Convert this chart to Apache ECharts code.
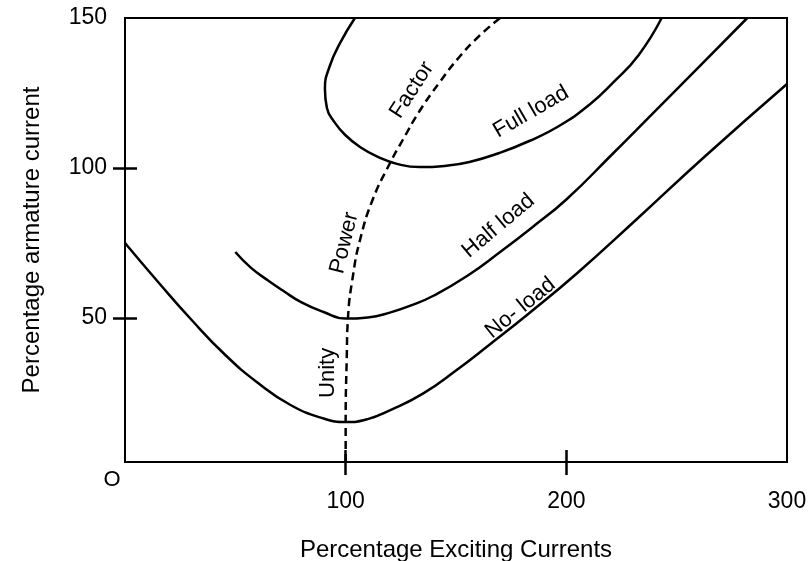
<!DOCTYPE html>
<html>
<head>
<meta charset="utf-8">
<script src="https://cdn.jsdelivr.net/npm/echarts@6/dist/echarts.min.js"></script>
<style>
html,body{margin:0;padding:0;background:#fff;}
#chart{width:812px;height:561px;}
</style>
</head>
<body>
<div id="chart"></div>
<script>
// ---- data (percentage exciting current, percentage armature current) ----
var noLoad = [[0,75],[15,62],[30,49.5],[45,38],[60,28.5],[75,21],[90,16.5],[100,15.3],[110,16.3],[120,19.2],[135,24.8],[150,32.5],[165,41],[183,51.5],[205,65],[232,83],[263,104],[300,128]];
var halfLoad = [[50,72],[57,66.8],[65,62.4],[72,58.9],[80,55.2],[90,52],[100,49.8],[110,50.2],[120,51.8],[130,54.3],[140,57.5],[155,64],[170,72],[185,80.5],[200,89.5],[220,104],[240,118.8],[260,133.6],[282,150]];
var fullLoad = [[104.2,150],[97.5,141.7],[92.8,134],[90.6,126.5],[91.5,120],[94.9,115.3],[99.8,111],[106.5,107],[114.6,103.7],[123.6,101.3],[133.6,100.3],[144.9,100.7],[156.1,102],[169.6,105],[183.2,109],[196.7,114],[210.3,121],[221.5,128.7],[232.8,137.7],[243.2,150]];
var unityPF = [[100,2],[100,16],[100.5,37],[101,49.5],[103.5,65],[106.5,76],[112,89],[120,101.5],[126,109.5],[133.5,119],[142.5,128.5],[151.5,137],[160.5,144],[170,150]];
var xTicks = [100, 200];
var xTickLabels = [100, 200, 300];
var yTicks = [50, 100];
var yTickLabels = [50, 100, 150];
var annTexts = ['Factor', 'Full load', 'Half load', 'No- load', 'Power', 'Unity'];
var annAt = [[130,126],[184,118.7],[169.2,80.7],[179.2,53.3],[99.4,75],[92,31.7]];
var annAngle = [57, 30, 40, 39, 76, 90];
var xTitle = 'Percentage Exciting Currents';
var yTitle = 'Percentage armature current';
var originLabel = 'O';

var FONT = '"Liberation Sans", Arial, sans-serif';
var INK = '#000';
var chart = echarts.init(document.getElementById('chart'), null, {renderer:'canvas'});

var annData = annTexts.map(function(t, i){
  return {value: annAt[i], label: {formatter: t, rotate: annAngle[i]}};
});
annData.push({value:[0,2], label:{formatter: originLabel, rotate:0, offset:[-13,18]}});

var lineStyle = {color:INK, width:2.5};
function curve(d){
  return {type:'line', data:d, smooth:true, symbol:'none', lineStyle:lineStyle, xAxisIndex:0, yAxisIndex:0, z:3};
}

chart.setOption({
  animation:false,
  backgroundColor:'#fff',
  grid:{left:125, right:25, top:18, bottom:99, show:true, borderColor:INK, borderWidth:2,
        containLabel:false, outerBoundsMode:'none'},
  xAxis:[{
    type:'value', min:0, max:300, position:'bottom',
    name:xTitle, nameLocation:'middle', nameGap:76,
    nameTextStyle:{fontFamily:FONT, fontSize:24, color:INK},
    axisLine:{show:true, onZero:false, lineStyle:{color:INK, width:2}},
    axisTick:{show:true, inside:false, length:13, customValues:xTicks, lineStyle:{color:INK, width:2.5}},
    axisLabel:{show:true, customValues:xTickLabels, margin:28, fontFamily:FONT, fontSize:23, color:INK},
    splitLine:{show:false}
  },{
    type:'value', min:0, max:300, position:'bottom',
    axisLine:{show:false},
    axisTick:{show:true, inside:true, length:12, customValues:xTicks, lineStyle:{color:INK, width:2.5}},
    axisLabel:{show:false}, splitLine:{show:false}
  }],
  yAxis:[{
    type:'value', min:2, max:150, position:'left',
    name:yTitle, nameLocation:'middle', nameGap:81,
    nameTextStyle:{fontFamily:FONT, fontSize:24, color:INK},
    axisLine:{show:true, onZero:false, lineStyle:{color:INK, width:2}},
    axisTick:{show:true, inside:false, length:12, customValues:yTicks, lineStyle:{color:INK, width:2.5}},
    axisLabel:{show:true, customValues:yTickLabels, margin:18, fontFamily:FONT, fontSize:23, color:INK},
    splitLine:{show:false}
  },{
    type:'value', min:2, max:150, position:'left',
    axisLine:{show:false},
    axisTick:{show:true, inside:true, length:12, customValues:yTicks, lineStyle:{color:INK, width:2.5}},
    axisLabel:{show:false}, splitLine:{show:false}
  }],
  series:[
    curve(noLoad),
    curve(halfLoad),
    curve(fullLoad),
    {type:'line', data:unityPF, smooth:true, symbol:'none', xAxisIndex:0, yAxisIndex:0, z:3,
     lineStyle:{color:INK, width:2.5, type:[8,5]}},
    {type:'scatter', data:annData, symbolSize:0, clip:false, xAxisIndex:0, yAxisIndex:0, z:5,
     itemStyle:{color:INK, opacity:1},
     emphasis:{disabled:true},
     label:{show:true, position:'inside', align:'center', verticalAlign:'middle', opacity:1,
            textBorderWidth:0, textBorderColor:'transparent',
            fontFamily:FONT, fontSize:22, color:INK}}
  ]
});
</script>
</body>
</html>
